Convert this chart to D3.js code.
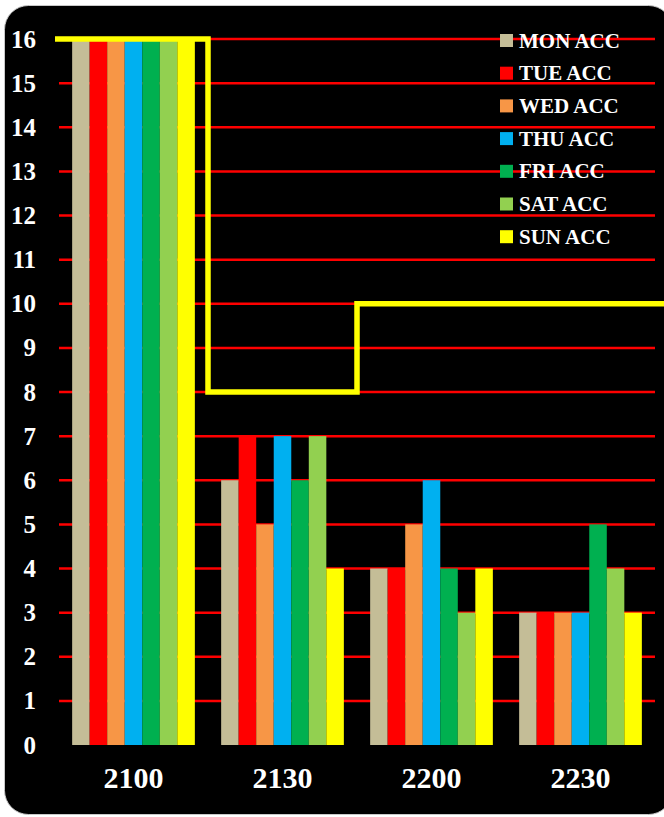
<!DOCTYPE html>
<html>
<head>
<meta charset="utf-8">
<script src="https://cdn.jsdelivr.net/npm/d3@7/dist/d3.min.js"></script>
<style>
  html, body { margin: 0; padding: 0; background: #ffffff; }
  svg { display: block; }
</style>
</head>
<body>
<svg id="chart" width="664" height="817"></svg>
<script>
// ---- data ----
const categories = ["2100", "2130", "2200", "2230"];
const seriesNames = ["MON ACC", "TUE ACC", "WED ACC", "THU ACC", "FRI ACC", "SAT ACC", "SUN ACC"];
const monAcc = [16, 6, 4, 3];
const tueAcc = [16, 7, 4, 3];
const wedAcc = [16, 5, 5, 3];
const thuAcc = [16, 7, 6, 3];
const friAcc = [16, 6, 4, 5];
const satAcc = [16, 7, 3, 4];
const sunAcc = [16, 4, 4, 3];
const limitLine = [16, 8, 10, 10];
const yTicks = [0, 1, 2, 3, 4, 5, 6, 7, 8, 9, 10, 11, 12, 13, 14, 15, 16];

const seriesValues = [monAcc, tueAcc, wedAcc, thuAcc, friAcc, satAcc, sunAcc];
const colors = ["#C4BD97", "#FF0000", "#F79646", "#00B0F0", "#00B050", "#92D050", "#FFFF00"];

const svg = d3.select("#chart");
const font = "'Liberation Serif', 'Times New Roman', serif";

// background
svg.append("rect")
  .attr("x", 4.5).attr("y", 5.5)
  .attr("width", 668).attr("height", 809)
  .attr("rx", 24).attr("ry", 24)
  .attr("fill", "#000000")
  .attr("stroke", "#c8c8c8").attr("stroke-width", 1);

// scales
const x0 = d3.scaleBand().domain(categories).range([59, 655]).padding(0);
const x1 = d3.scaleBand().domain(seriesNames).range([0, x0.bandwidth()]).paddingInner(0).paddingOuter(0.75);
const y = d3.scaleLinear().domain([0, 16]).range([745, 39]);

// gridlines
svg.append("g").selectAll("line")
  .data(yTicks.filter(d => d > 0))
  .join("line")
  .attr("x1", 59).attr("x2", 655)
  .attr("y1", d => y(d)).attr("y2", d => y(d))
  .attr("stroke", "#FF0000").attr("stroke-width", 2.5);

// y labels
svg.append("g").selectAll("text")
  .data(yTicks)
  .join("text")
  .attr("x", 36)
  .attr("y", d => y(d) + 8.5)
  .attr("text-anchor", "end")
  .attr("fill", "#ffffff")
  .attr("font-family", font)
  .attr("font-weight", "bold")
  .attr("font-size", 25)
  .text(d => d);

// bars
const groups = svg.append("g").selectAll("g")
  .data(categories)
  .join("g")
  .attr("transform", d => `translate(${x0(d)},0)`);

groups.selectAll("rect")
  .data((c, ci) => seriesNames.map((s, si) => ({ s, si, v: seriesValues[si][ci] })))
  .join("rect")
  .attr("x", d => x1(d.s))
  .attr("width", x1.bandwidth())
  .attr("y", d => y(d.v))
  .attr("height", d => y(0) - y(d.v))
  .attr("fill", d => colors[d.si]);

// x labels
svg.append("g").selectAll("text")
  .data(categories)
  .join("text")
  .attr("x", d => x0(d) + x0.bandwidth() / 2)
  .attr("y", 788)
  .attr("text-anchor", "middle")
  .attr("fill", "#ffffff")
  .attr("font-family", font)
  .attr("font-weight", "bold")
  .attr("font-size", 30)
  .text(d => d);

// step line
const stepPts = categories.map((c, i) => ({ x: i === 0 ? x0(c) - 4 : x0(c), v: limitLine[i] }));
stepPts.push({ x: 668, v: limitLine[limitLine.length - 1] });
const line = d3.line().x(d => d.x).y(d => y(d.v)).curve(d3.curveStepAfter);
svg.append("path")
  .datum(stepPts)
  .attr("d", line)
  .attr("fill", "none")
  .attr("stroke", "#FFFF00")
  .attr("stroke-width", 5.5)
  .attr("stroke-linejoin", "miter");

// legend
const leg = svg.append("g").selectAll("g")
  .data(seriesNames)
  .join("g")
  .attr("transform", (d, i) => `translate(500,${34 + i * 32.7})`);
leg.append("rect")
  .attr("width", 13).attr("height", 13)
  .attr("fill", (d, i) => colors[i]);
leg.append("text")
  .attr("x", 19).attr("y", 13.5)
  .attr("fill", "#ffffff")
  .attr("font-family", font)
  .attr("font-weight", "bold")
  .attr("font-size", 21)
  .text(d => d);
</script>
</body>
</html>
